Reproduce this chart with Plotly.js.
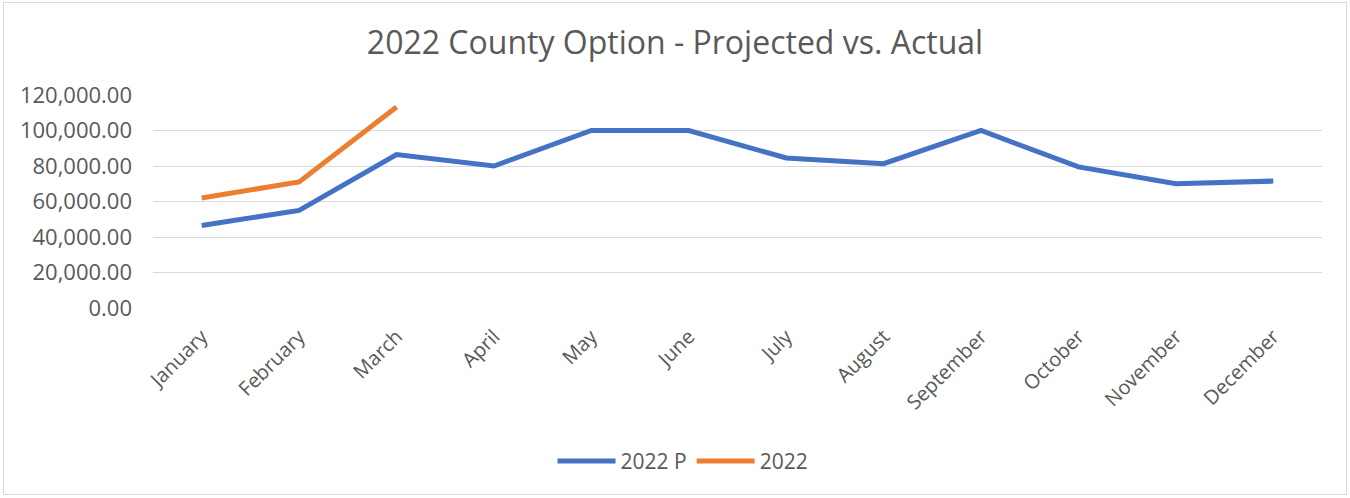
<!DOCTYPE html>
<html>
<head>
<meta charset="utf-8">
<script src="https://cdn.plot.ly/plotly-3.0.1.min.js"></script>
<style>
html,body{margin:0;padding:0;background:#fff;}
#wrap{position:absolute;left:3px;top:2px;width:1344px;height:493px;border:1px solid #d9d9d9;box-sizing:border-box;}
#chart{position:absolute;left:0;top:0;width:1350px;height:498px;}
</style>
</head>
<body>
<div id="wrap"></div>
<div id="chart"></div>
<script>
var months = ["January","February","March","April","May","June","July","August","September","October","November","December"];
var projected2022 = [46500, 55000, 86400, 80000, 100000, 100000, 84500, 81300, 100000, 79500, 70000, 71500];
var actual2022 = [62000, 71000, 113200];
var yTicks = [0, 20000, 40000, 60000, 80000, 100000, 120000];

var FONT = "Open Sans, Liberation Sans, sans-serif";
var traces = [
  {x: months, y: projected2022, name: "2022 P", type: "scatter", mode: "lines",
   line: {color: "#4472C4", width: 5}},
  {x: months.slice(0, actual2022.length), y: actual2022, name: "2022", type: "scatter", mode: "lines",
   line: {color: "#ED7D31", width: 5}}
];
var layout = {
  width: 1350, height: 498,
  paper_bgcolor: "rgba(0,0,0,0)", plot_bgcolor: "rgba(0,0,0,0)",
  margin: {l: 153, r: 28, t: 95, b: 190},
  font: {family: FONT, color: "#595959"},
  title: {text: "2022 County Option - Projected vs. Actual", x: 0.5, xanchor: "center", y: 0.915, yanchor: "middle",
          font: {family: FONT, size: 32, color: "#595959"}},
  xaxis: {type: "category", categoryorder: "array", categoryarray: months, range: [-0.5, 11.5],
          tickangle: -45, tickfont: {size: 20, color: "#595959"}, showgrid: false, zeroline: false,
          showline: false, ticks: "", ticklen: 0, ticklabelstandoff: 12},
  yaxis: {range: [0, 120000], tickvals: yTicks, tickformat: ",.2f", tickfont: {size: 22, color: "#595959"},
          gridcolor: "#d9d9d9", gridwidth: 1, zeroline: false, showline: false, ticks: "", ticklen: 0,
          ticklabelstandoff: 20},
  showlegend: true,
  legend: {orientation: "h", x: 0.4534, xanchor: "center", y: -0.72, yanchor: "middle",
           font: {size: 21, color: "#595959"}, itemwidth: 58},
  hovermode: false
};
Plotly.newPlot("chart", traces, layout, {displayModeBar: false, staticPlot: true});
</script>
</body>
</html>
